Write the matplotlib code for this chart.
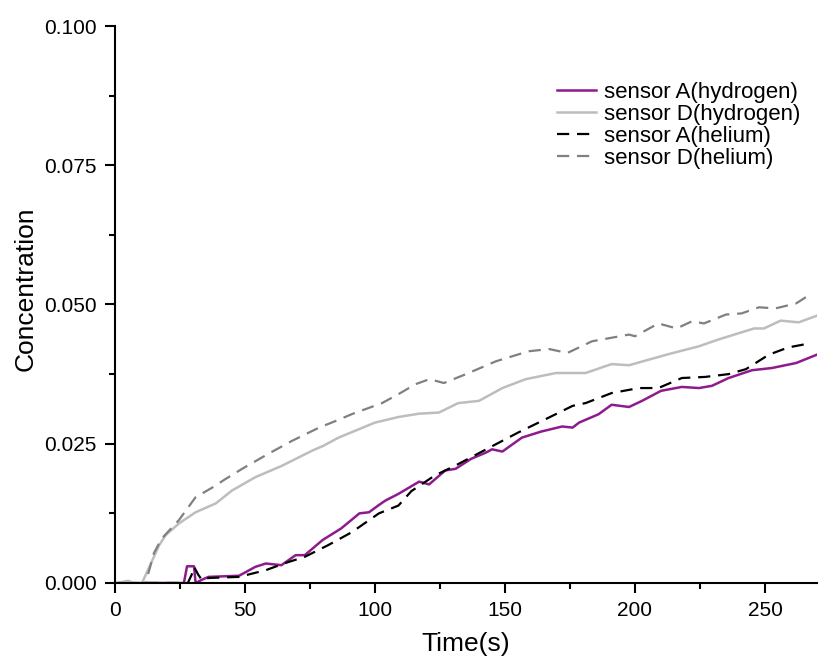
import matplotlib
matplotlib.use("Agg")
import matplotlib.pyplot as plt
from matplotlib.ticker import MultipleLocator

plt.rcParams["font.family"] = ["Liberation Sans", "DejaVu Sans"]

# sensor A (hydrogen)
a_h2_t = [11, 26.5, 27.7, 30.4, 31, 33.5, 36, 47.7, 54, 58, 64, 69.5, 73, 79.8, 87, 94,
          97.7, 101.5, 104, 109, 117, 120.8, 127, 131, 137, 142.6, 145, 149, 156.5, 164,
          172, 176, 178.5, 186, 191, 197.7, 202.7, 210, 218, 224.6, 229.6, 236, 245,
          252.7, 262, 270]
a_h2_c = [0, 0, 0.003, 0.003, 0, 0.0006, 0.0011, 0.0013, 0.0029, 0.0035, 0.0032, 0.005,
          0.005, 0.0077, 0.0098, 0.0125, 0.0127, 0.0140, 0.0148, 0.0160, 0.0182, 0.0177,
          0.0202, 0.0205, 0.0223, 0.0234, 0.0240, 0.0236, 0.0261, 0.0272, 0.0281, 0.0279,
          0.0288, 0.0303, 0.0320, 0.0316, 0.0327, 0.0345, 0.0352, 0.0350, 0.0354, 0.0368,
          0.0382, 0.0386, 0.0395, 0.0410]

# sensor D (hydrogen)
d_h2_t = [0, 3, 5, 7, 10.4, 17, 19.5, 24.6, 31, 38.8, 45, 54, 64, 76, 80, 86, 100, 109,
          117, 124.6, 132, 140, 149, 158, 169.6, 181, 191, 197.7, 213, 224.6, 232, 245.8,
          249.6, 256, 263, 270]
d_h2_c = [0, 0.0002, 0.0004, 0.0001, 0, 0.0068, 0.0086, 0.0107, 0.0127, 0.0143, 0.0166,
          0.0190, 0.0210, 0.0238, 0.0246, 0.0261, 0.0288, 0.0298, 0.0304, 0.0306, 0.0323,
          0.0327, 0.0350, 0.0366, 0.0377, 0.0377, 0.0393, 0.0391, 0.0411, 0.0425, 0.0437,
          0.0457, 0.0457, 0.0471, 0.0468, 0.0480]

# sensor A (helium)
a_he_t = [12, 28, 29.5, 30.4, 32, 33.5, 36, 47.7, 58, 65.6, 73, 82, 91, 101.5, 109, 114,
          123, 131, 144, 155, 166, 176, 181, 191, 201.5, 209, 218, 227, 236, 242.7, 251.5,
          259, 267]
a_he_c = [0, 0, 0.0015, 0.0029, 0.0015, 0.0005, 0.0009, 0.0011, 0.0023, 0.0036, 0.0047,
          0.0068, 0.0091, 0.0125, 0.0139, 0.0165, 0.0193, 0.0211, 0.0243, 0.0270, 0.0295,
          0.0318, 0.0323, 0.0341, 0.0350, 0.0350, 0.0368, 0.0370, 0.0375, 0.0384, 0.0410,
          0.0423, 0.0430]

# sensor D (helium)
d_he_t = [0, 11.8, 15, 18, 24.6, 31, 37.3, 42.6, 48.9, 59, 68, 78.5, 86, 91, 102.7, 109,
          115.6, 121, 126.5, 135, 146.5, 159, 167, 174, 183.5, 197.7, 200, 209, 216, 222,
          226.5, 235, 241, 247.7, 254, 262, 268]
d_he_c = [0, 0, 0.0054, 0.0080, 0.0113, 0.0154, 0.0171, 0.0187, 0.0205, 0.0232, 0.0255,
          0.0279, 0.0293, 0.0303, 0.0323, 0.0339, 0.0357, 0.0366, 0.0359, 0.0375, 0.0398,
          0.0416, 0.0420, 0.0413, 0.0434, 0.0446, 0.0443, 0.0466, 0.0457, 0.0470, 0.0466,
          0.0482, 0.0484, 0.0495, 0.0493, 0.0502, 0.0520]

fig = plt.figure(figsize=(8.36, 6.62), dpi=100)
# axes: x 115..817 px, y 26..583 px
ax = fig.add_axes([115 / 836, 1 - 583 / 662, 702 / 836, 557 / 662])

ax.plot(a_h2_t, a_h2_c, color="#8e1b8e", lw=1.8, label="sensor A(hydrogen)")
ax.plot(d_h2_t, d_h2_c, color="#bdbdbd", lw=1.8, label="sensor D(hydrogen)")
ax.plot(a_he_t, a_he_c, color="black", lw=1.6, dashes=(5.5, 3.5), label="sensor A(helium)")
ax.plot(d_he_t, d_he_c, color="#808080", lw=1.6, dashes=(5.5, 3.5), label="sensor D(helium)")

ax.set_xlim(0, 270)
ax.set_ylim(0, 0.1)
ax.xaxis.set_major_locator(MultipleLocator(50))
ax.xaxis.set_minor_locator(MultipleLocator(25))
ax.yaxis.set_major_locator(MultipleLocator(0.025))
ax.yaxis.set_minor_locator(MultipleLocator(0.0125))
ax.yaxis.set_major_formatter(plt.FormatStrFormatter("%.3f"))

for side in ["top", "right"]:
    ax.spines[side].set_visible(False)
for side in ["left", "bottom"]:
    ax.spines[side].set_linewidth(1.5)
ax.tick_params(which="major", direction="out", length=7, width=1.5, labelsize=15, pad=6)
ax.tick_params(which="minor", direction="out", length=4, width=1.5)

ax.set_xlabel("Time(s)", fontsize=19, va="top")
ax.xaxis.set_label_coords(0.5, -0.088)
ax.set_ylabel("Concentration", fontsize=19)
ax.yaxis.set_label_coords(-0.11, 0.528)

ax.legend(loc="upper right", bbox_to_anchor=(0.976, 0.900), frameon=False, fontsize=16,
          handlelength=1.75, handletextpad=0.36, labelspacing=0.05, borderpad=0,
          borderaxespad=0)

fig.savefig("out.png", dpi=100)
